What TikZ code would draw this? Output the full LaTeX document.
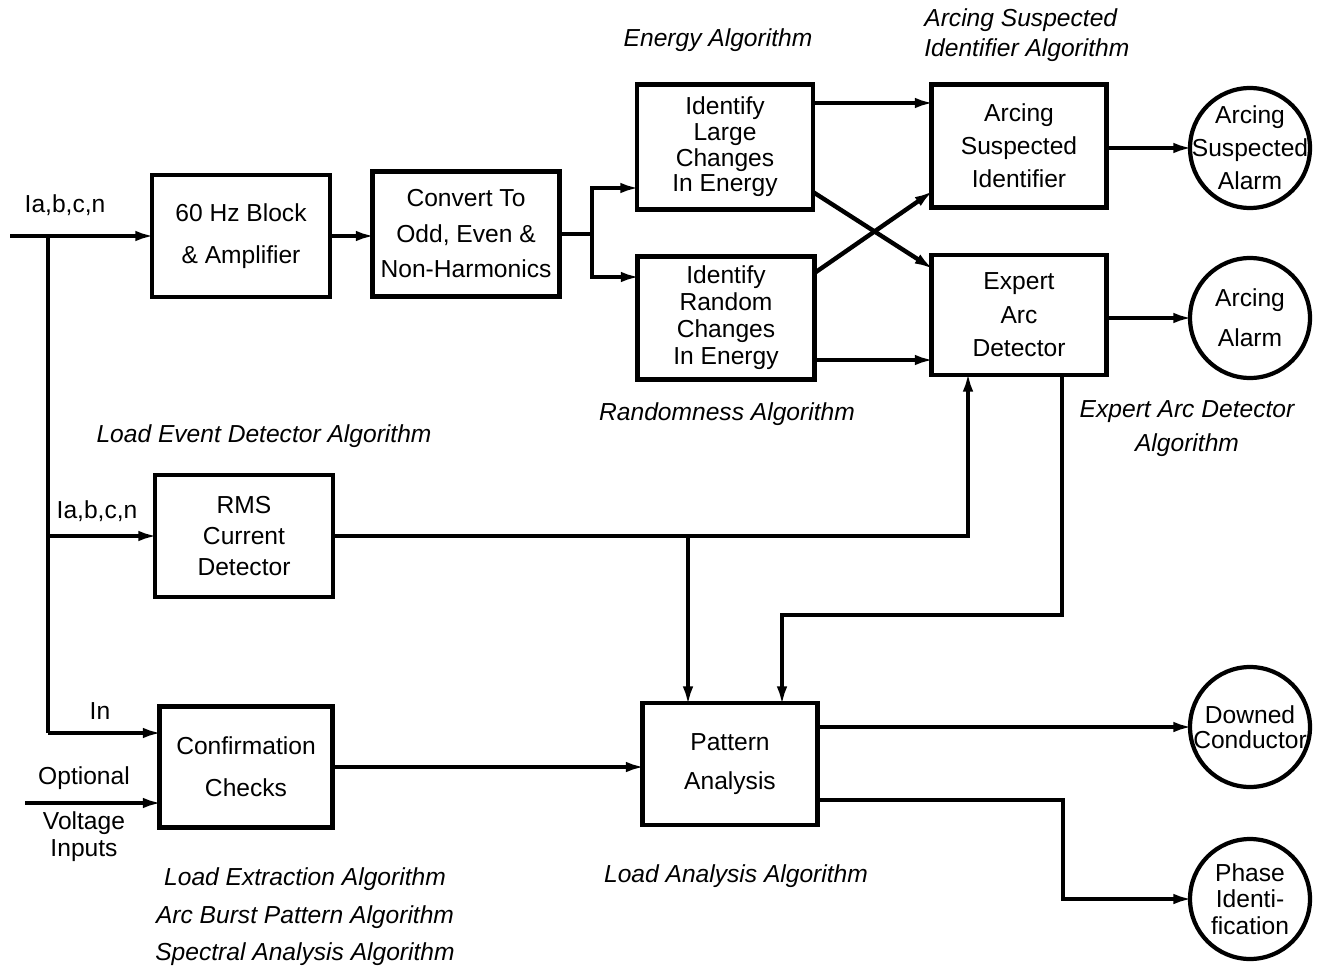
\documentclass[tikz,border=0pt]{standalone}
\usepackage{fontspec}
\setmainfont{Liberation Sans}
\usetikzlibrary{arrows.meta, shapes.geometric}
\newcommand{\boxlead}[1]{\fontsize{14}{#1}\selectfont}

\begin{document}
\begin{tikzpicture}[
  x=0.02cm, y=-0.02cm,
  box/.style={rectangle, draw=black, line width=2.8pt, align=center, inner sep=0pt, outer sep=0pt},
  alarm/.style={circle, draw=black, line width=2.4pt, minimum size=2.4cm, inner sep=0pt, outer sep=0pt},
  alarmtxt/.style={align=center, inner sep=0pt},
  algo/.style={font=\boxlead{17}\itshape, align=center, inner sep=0pt},
  sig/.style={font=\boxlead{17}, align=center, inner sep=0pt},
  wire/.style={line width=2.5pt},
  arr/.style={-{Latex[length=11pt,width=6pt]}, line width=2.5pt, shorten >=-1.5pt}
]
\useasboundingbox (0,0) rectangle (1327,973);

\node[box, minimum width=3.56cm, minimum height=2.44cm, font=\boxlead{23.9}] (amp) at (241,236) {60 Hz Block\\\& Amplifier};
\node[box, minimum width=3.74cm, minimum height=2.5cm, font=\boxlead{20.2}] (conv) at (466,234) {Convert To\\Odd, Even \&\\Non-Harmonics};
\node[box, minimum width=3.52cm, minimum height=2.5cm, font=\boxlead{14.6}] (large) at (725,147) {Identify\\Large\\Changes\\In Energy};
\node[box, minimum width=3.54cm, minimum height=2.46cm, font=\boxlead{15.4}] (random) at (726,318) {Identify\\Random\\Changes\\In Energy};
\node[box, minimum width=3.5cm, minimum height=2.46cm, font=\boxlead{18.8}] (asi) at (1019,146) {Arcing\\Suspected\\Identifier};
\node[box, minimum width=3.5cm, minimum height=2.4cm, font=\boxlead{19.1}] (ead) at (1019,315) {Expert\\Arc\\Detector};
\node[box, minimum width=3.56cm, minimum height=2.44cm, font=\boxlead{17.9}] (rms) at (244,536) {RMS\\Current\\Detector};
\node[box, minimum width=3.46cm, minimum height=2.42cm, font=\boxlead{23.9}] (conf) at (246,767) {Confirmation\\Checks};
\node[box, minimum width=3.5cm, minimum height=2.44cm, font=\boxlead{22.2}] (pat) at (730,764) {Pattern\\Analysis};

\node[alarm, label={[alarmtxt, font=\boxlead{18.8}]center:{Arcing\\Suspected\\Alarm}}] (asa) at (1250,148) {};
\node[alarm, label={[alarmtxt, font=\boxlead{22.8}]center:{Arcing\\Alarm}}] (aa) at (1250,318) {};
\node[alarm, label={[alarmtxt, font=\boxlead{14.2}]center:{Downed\\Conductor}}] (dc) at (1250,727) {};
\node[alarm, label={[alarmtxt, font=\boxlead{15.1}]center:{Phase\\Identi-\\fication}}] (pi) at (1250,899) {};

\node[sig] (iabc1) at (65,205) {Ia,b,c,n};
\node[sig] (iabc2) at (97,511) {Ia,b,c,n};
\node[sig] (inn) at (100,711) {In};
\node[sig] (opt) at (84,778) {Optional};
\node[sig, font=\boxlead{15.4}] (volt) at (84,837) {Voltage\\Inputs};

\node[algo] (energy) at (718,40) {Energy Algorithm};
\node[algo, align=left, anchor=west] (asialg) at (924,35) {Arcing Suspected\\Identifier Algorithm};
\node[algo] (randalg) at (727,414) {Randomness Algorithm};
\node[algo, font=\boxlead{19.4}\itshape] (eadalg) at (1187,429) {Expert Arc Detector\\Algorithm};
\node[algo] (ledalg) at (264,436) {Load Event Detector Algorithm};
\node[algo, font=\boxlead{21.3}\itshape] (lexalg) at (305,917) {Load Extraction Algorithm\\Arc Burst Pattern Algorithm\\Spectral Analysis Algorithm};
\node[algo] (laalg) at (736,876) {Load Analysis Algorithm};

\coordinate (in) at (10,236);
\coordinate (tap) at (48,236);
\coordinate (tapn) at (48,733);
\coordinate (vin) at (25,803);
\coordinate (split) at (592,234);

\draw[arr] (in) -- (amp.west);
\draw[wire] (tap) -- (tapn);
\draw[arr] (tap |- rms) -- (rms.west);
\draw[arr] (tapn) -- (tapn -| conf.west);
\draw[arr] (vin) -- (vin -| conf.west);

\draw[arr] (amp.east) -- (conv.west |- amp.east);
\draw[wire] (conv.east) -- (split);
\draw[arr] (split) |- (large.west |- 0,188);
\draw[arr] (split) |- (random.west |- 0,277);

\draw[arr] (large.east |- 0,103) -- (asi.west |- 0,103);
\draw[arr] (large.east |- 0,192) -- (ead.west |- 0,268);
\draw[arr] (random.east |- 0,273) -- (asi.west |- 0,192);
\draw[arr] (random.east |- 0,360) -- (ead.west |- 0,360);

\draw[arr] (asi.east |- asa) -- (asa.west);
\draw[arr] (ead.east |- aa) -- (aa.west);

\draw[arr] (rms.east) -| (ead.south -| 968,0);
\draw[arr] (688,0 |- rms.east) -- (688,0 |- pat.north);
\draw[arr] (ead.south -| 1062,0) |- (782,615) -- (782,0 |- pat.north);
\draw[arr] (conf.east) -- (pat.west |- conf.east);

\draw[arr] (pat.east |- dc) -- (dc.west);
\draw[arr] (pat.east |- 0,800) -| (1063,0 |- pi) -- (pi.west);

\end{tikzpicture}
\end{document}
